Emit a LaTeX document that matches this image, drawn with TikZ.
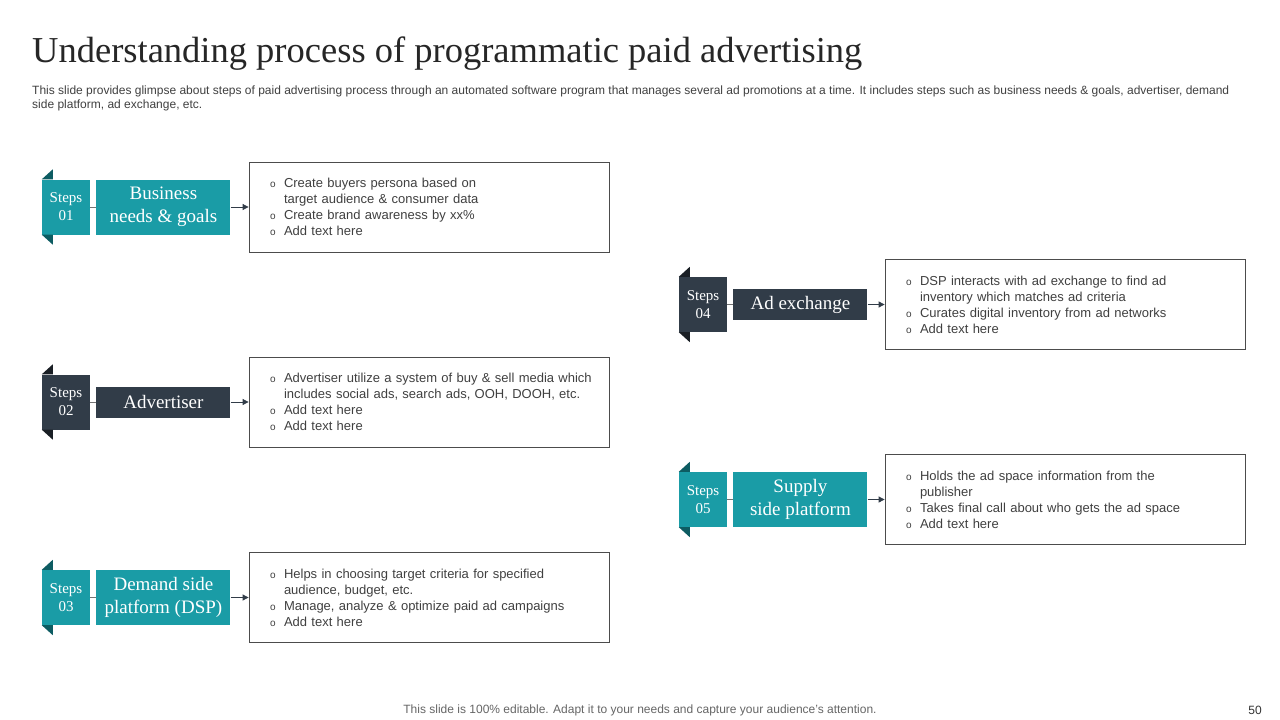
\documentclass[tikz,border=0pt]{standalone}
\usepackage{fontspec}
\setmainfont{Liberation Serif}
\setsansfont{Liberation Sans}
\usetikzlibrary{positioning, arrows.meta}

\definecolor{tealc}{HTML}{1A9CA6}
\definecolor{tealfold}{HTML}{0D5C62}
\definecolor{darkc}{HTML}{313C48}
\definecolor{darkfold}{HTML}{1A1F25}
\definecolor{txtgray}{HTML}{404040}
\newcommand{\bitem}[1]{\mbox{\makebox[15pt][l]{\hspace*{1pt}\fontsize{10}{12}\selectfont o}#1}}
\newcommand{\bcont}[1]{\mbox{\hspace*{15pt}#1}}

\begin{document}
\begin{tikzpicture}[x=1pt, y=-1pt,
  tag/.style={minimum width=48pt, minimum height=55pt, inner sep=0pt,
              align=center, text=white, font=\fontsize{15}{18}\selectfont},
  lbl/.style={minimum width=134pt, inner sep=0pt, align=center,
              text=white, font=\fontsize{19}{23}\selectfont},
  info/.style={draw=black!70, line width=0.8pt, text width=320pt,
               minimum height=90pt, inner xsep=20pt, align=left,
               text=txtgray, font=\sffamily\fontsize{13}{16}\selectfont},
  link/.style={draw=black!55, line width=0.8pt},
  arr/.style={-{Triangle[length=6pt, width=6pt]}, draw=darkc, line width=0.8pt},
]
\useasboundingbox[fill=white] (0,0) rectangle (1280,720);

% title and subtitle
\node[anchor=base west, inner sep=0pt, font=\fontsize{36.5}{40}\selectfont, text=black!85]
  (title) at (32,62) {Understanding process of programmatic paid advertising};
\node[anchor=north west, inner sep=0pt, align=left, text=txtgray,
      font=\sffamily\fontsize{12}{14}\selectfont] (sub) at (32,86)
  {This slide provides glimpse about steps of paid advertising process through an automated software program that manages several ad promotions at a time. It includes steps such as business needs \& goals, advertiser, demand\\
   side platform, ad exchange, etc.};

% step 01
\node[tag, fill=tealc] (s1) at (66,207) {Steps\\01};
\node[lbl, fill=tealc, minimum height=55pt, right=6pt of s1] (l1) {Business\\needs \& goals};
\node[info, right=18pt of l1] (b1) {\bitem{Create buyers persona based on}\\
  \bcont{target audience \& consumer data}\\
  \bitem{Create brand awareness by xx\%}\\
  \bitem{Add text here}};

% step 02
\node[tag, fill=darkc] (s2) at (66,402) {Steps\\02};
\node[lbl, fill=darkc, minimum height=31pt, right=6pt of s2] (l2) {Advertiser};
\node[info, right=18pt of l2] (b2) {\bitem{Advertiser utilize a system of buy \& sell media which}\\
  \bcont{includes social ads, search ads, OOH, DOOH, etc.}\\
  \bitem{Add text here}\\
  \bitem{Add text here}};

% step 03
\node[tag, fill=tealc] (s3) at (66,597.5) {Steps\\03};
\node[lbl, fill=tealc, minimum height=55pt, right=6pt of s3] (l3) {Demand side\\platform (DSP)};
\node[info, right=18pt of l3] (b3) {\bitem{Helps in choosing target criteria for specified}\\
  \bcont{audience, budget, etc.}\\
  \bitem{Manage, analyze \& optimize paid ad campaigns}\\
  \bitem{Add text here}};

% step 04
\node[tag, fill=darkc] (s4) at (703,304.5) {Steps\\04};
\node[lbl, fill=darkc, minimum height=31pt, right=6pt of s4] (l4) {Ad exchange};
\node[info, right=17pt of l4] (b4) {\bitem{DSP interacts with ad exchange to find ad}\\
  \bcont{inventory which matches ad criteria}\\
  \bitem{Curates digital inventory from ad networks}\\
  \bitem{Add text here}};

% step 05
\node[tag, fill=tealc] (s5) at (703,499.5) {Steps\\05};
\node[lbl, fill=tealc, minimum height=55pt, right=6pt of s5] (l5) {Supply\\side platform};
\node[info, right=17pt of l5] (b5) {\bitem{Holds the ad space information from the}\\
  \bcont{publisher}\\
  \bitem{Takes final call about who gets the ad space}\\
  \bitem{Add text here}};

% ribbon folds
\foreach \t/\c in {s1/tealfold, s2/darkfold, s3/tealfold, s4/darkfold, s5/tealfold} {
  \fill[\c] (\t.north west) -- ++(11,-10) -- ++(0,10) -- cycle;
  \fill[\c] (\t.south west) -- ++(11,10) -- ++(0,-10) -- cycle;
}

% connectors
\foreach \i in {1,...,5} {
  \draw[link] (s\i.east) -- (l\i.west);
  \draw[arr] (l\i.east) -- (b\i.west);
}

% footer
\node[text=black!60, font=\sffamily\fontsize{12}{14}\selectfont] (foot) at (640,710)
  {This slide is 100\% editable. Adapt it to your needs and capture your audience's attention.};
\node[text=black!80, font=\sffamily\fontsize{12}{14}\selectfont] (page) at (1255,710) {50};
\end{tikzpicture}
\end{document}
